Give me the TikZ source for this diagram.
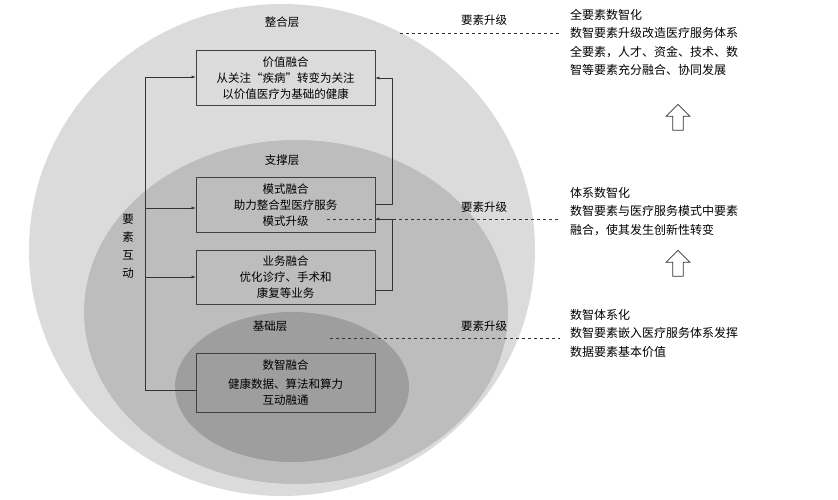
\documentclass[tikz,border=0pt]{standalone}
\usepackage{fontspec}
\setmainfont{Noto Sans CJK SC}
\usetikzlibrary{arrows.meta,shapes.arrows}
\begin{document}
\begin{tikzpicture}[x=1pt,y=-1pt,font=\fontsize{11.5}{16}\selectfont,
   fusebox/.style={draw=black!75,thick,fill=none,minimum width=179,align=center,anchor=north,inner sep=1pt},
   link/.style={draw=black!80,-{Latex[length=4pt,width=3pt]}},
   upgrade/.style={dashed,draw=black!80},
   note/.style={anchor=north west,align=left,inner sep=0pt,font=\fontsize{12}{18.5}\selectfont}]
   \useasboundingbox (0,0) rectangle (838,500);
   %% 三层椭圆
   \fill[black!14] (282,250) ellipse [x radius=253,y radius=246];
   \fill[black!26] (296,312) ellipse [x radius=212,y radius=172];
   \fill[black!38] (292,387) ellipse [x radius=117,y radius=75];
   
   \node (L1) at (282,22) {整合层};
   \node (L2) at (282,160) {支撑层};
   \node (L3) at (270,326) {基础层};
   
   \node[fusebox,minimum height=55] (value) at (285.5,50)
   {价值融合\\从关注“疾病”转变为关注\\以价值医疗为基础的健康};
   \node[fusebox,minimum height=55] (mode) at (285.5,177)
   {模式融合\\助力整合型医疗服务\\模式升级};
   \node[fusebox,minimum height=54] (biz) at (285.5,250)
   {业务融合\\优化诊疗、手术和\\康复等业务};
   \node[fusebox,minimum height=59] (data) at (285.5,353)
   {数智融合\\[3pt]健康数据、算法和算力\\互动融通};
   
   \coordinate (Ltop) at (145,77);
   \coordinate (Lbot) at (145,390);
   \draw[draw=black!80] (Ltop) -- (Lbot) -- (data.west |- Lbot);
   \draw[link] (Ltop) -- (value.west |- Ltop);
   \draw[link] (145,208) -- (mode.west |- 145,208);
   \draw[link] (145,277) -- (biz.west |- 145,277);
   \node[align=center,inner sep=0pt,font=\fontsize{11.5}{18}\selectfont] (interact) at (128,246) {要\\素\\互\\动};
   
   \draw[link] (mode.east |- 0,204) -- (392,204) -- (392,78) -- (value.east |- 0,78);
   \draw[link] (biz.east |- 0,290) -- (392,290) -- (392,219) -- (mode.east |- 0,219);
   
   %% 要素升级
   \draw[upgrade] (400,33) -- (560,33);
   \draw[upgrade] (327,219) -- (560,219);
   \draw[upgrade] (330,338) -- (560,338);
   \node (up1) at (484,20) {要素升级};
   \node (up2) at (484,207) {要素升级};
   \node (up3) at (484,326) {要素升级};
   
   \node[note] (n1) at (570,9) {全要素数智化\\数智要素升级改造医疗服务体系\\全要素，人才、资金、技术、数\\智等要素充分融合、协同发展};
   \node[note] (n2) at (570,187) {体系数智化\\数智要素与医疗服务模式中要素\\融合，使其发生创新性转变};
   \node[note] (n3) at (570,309) {数智体系化\\数智要素嵌入医疗服务体系发挥\\数据要素基本价值};
   \node[draw=black!80,thick,single arrow,shape border rotate=90,minimum height=26,minimum width=24,single arrow head extend=3,inner sep=2pt] (a1) at (678,120) {};
   \node[draw=black!80,thick,single arrow,shape border rotate=90,minimum height=26,minimum width=24,single arrow head extend=3,inner sep=2pt] (a2) at (678,266) {};
\end{tikzpicture}
\end{document}
